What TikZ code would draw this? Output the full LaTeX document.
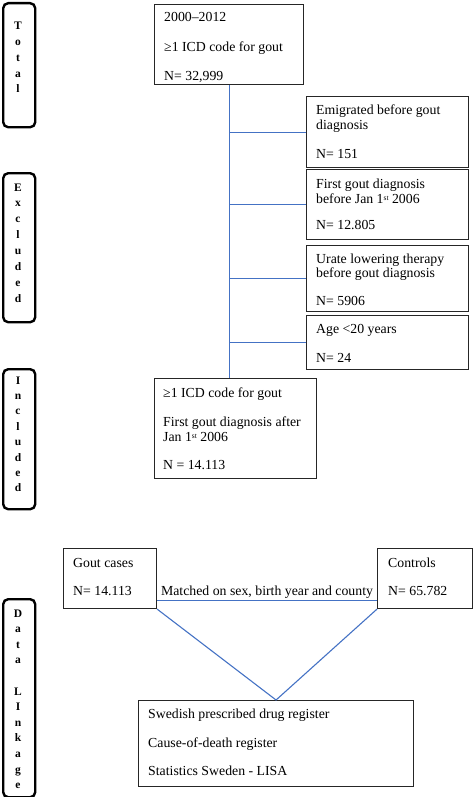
\documentclass[tikz,border=0pt]{standalone}
\usepackage{fontspec}
\setmainfont{Liberation Serif}
\usetikzlibrary{positioning,calc}
\definecolor{linkblue}{RGB}{68,114,196}
\newcommand{\supst}{\raisebox{3pt}{\fontsize{7.5}{8}\selectfont st}}

\begin{document}
\begin{tikzpicture}[x=1pt,y=-1pt,
  box/.style={draw=black!85,line width=1.1pt,anchor=north west,inner sep=0pt},
  tag/.style={draw,line width=2.4pt,rounded corners=5pt,anchor=north west,inner sep=0pt,minimum width=32pt},
  txt/.style={anchor=base west,inner sep=0pt,font=\fontsize{13.8}{15}\selectfont},
  vlet/.style={anchor=base,inner sep=0pt,font=\fontsize{11.5}{13}\selectfont\bfseries},
  link/.style={draw=linkblue,line width=1.1pt}]
  \useasboundingbox (0,0) rectangle (473,797);

  % stage tags on the left
  \node[tag,minimum height=124pt] (totaltag) at (2,2) {};
  \foreach \ch [count=\i] in {T,o,t,a,l}
    \node[vlet] (totl\i) at (18,30+15.7*\i-15.7) {\ch};

  \node[tag,minimum height=149pt] (excltag) at (2,172) {};
  \foreach \ch [count=\i] in {E,x,c,l,u,d,e,d}
    \node[vlet] (excl\i) at (18,191+15.9*\i-15.9) {\ch};

  \node[tag,minimum height=140pt] (incltag) at (2,368) {};
  \foreach \ch [count=\i] in {I,n,c,l,u,d,e,d}
    \node[vlet] (incl\i) at (18,384+15.4*\i-15.4) {\ch};

  \node[tag,minimum height=198pt] (datatag) at (2,598) {};
  \foreach \ch [count=\i] in {D,a,t,a,{},L,I,n,k,a,g,e}
    \node[vlet] (data\i) at (18,617+15.6*\i-15.6) {\ch};

  % total cohort
  \node[box,minimum width=149pt,minimum height=80pt] (total) at (154,4) {};
  \node[txt] (total1) at (164,22) {2000--2012};
  \node[txt] (total2) at (164,52) {≥1 ICD code for gout};
  \node[txt] (total3) at (164,81) {N= 32,999};

  % exclusions
  \node[box,minimum width=162pt,minimum height=71pt] (emig) at (306,96) {};
  \node[txt] (emig1) at (316,115) {Emigrated before gout};
  \node[txt] (emig2) at (316,129) {diagnosis};
  \node[txt] (emig3) at (316,158) {N= 151};

  \node[box,minimum width=162pt,minimum height=70pt] (first) at (306,169) {};
  \node[txt] (first1) at (316,188) {First gout diagnosis};
  \node[txt] (first2) at (316,203) {before Jan 1\supst{} 2006};
  \node[txt] (first3) at (316,229) {N= 12.805};

  \node[box,minimum width=162pt,minimum height=66pt] (urate) at (306,245) {};
  \node[txt] (urate1) at (316,263) {Urate lowering therapy};
  \node[txt] (urate2) at (316,277) {before gout diagnosis};
  \node[txt] (urate3) at (316,305) {N= 5906};

  \node[box,minimum width=162pt,minimum height=54pt] (age) at (306,315) {};
  \node[txt] (age1) at (316,333) {Age <20 years};
  \node[txt] (age2) at (316,362) {N= 24};

  % included cohort
  \node[box,minimum width=162pt,minimum height=100pt] (incl) at (154,378) {};
  \node[txt] (inclt1) at (163,397) {≥1 ICD code for gout};
  \node[txt] (inclt2) at (163,426) {First gout diagnosis after};
  \node[txt] (inclt3) at (163,441) {Jan 1\supst{} 2006};
  \node[txt] (inclt4) at (163,469) {N = 14.113};

  % data linkage
  \node[box,minimum width=93pt,minimum height=60pt] (gout) at (63,548) {};
  \node[txt] (gout1) at (73,567) {Gout cases};
  \node[txt] (gout2) at (73,595) {N= 14.113};

  \node[box,minimum width=95pt,minimum height=60pt] (ctrl) at (377,548) {};
  \node[txt] (ctrl1) at (388,567) {Controls};
  \node[txt] (ctrl2) at (388,595) {N= 65.782};

  \node[box,minimum width=275pt,minimum height=86pt] (reg) at (138,700) {};
  \node[txt] (reg1) at (148,718) {Swedish prescribed drug register};
  \node[txt] (reg2) at (148,747) {Cause-of-death register};
  \node[txt] (reg3) at (148,775) {Statistics Sweden - LISA};

  % connectors
  \draw[link] (total.south) -- (total.south |- incl.north);
  \foreach \b in {emig,first,urate,age}
    \draw[link] (total.south |- \b.west) -- (\b.west);

  \draw[link] ([yshift=9pt]gout.south east)
    -- node[txt,pos=0.5,anchor=base,yshift=5pt] (match) {Matched on sex, birth year and county}
    ([yshift=9pt]ctrl.south west);
  \draw[link] (gout.south east) -- (reg.north) -- (ctrl.south west);

\end{tikzpicture}
\end{document}
